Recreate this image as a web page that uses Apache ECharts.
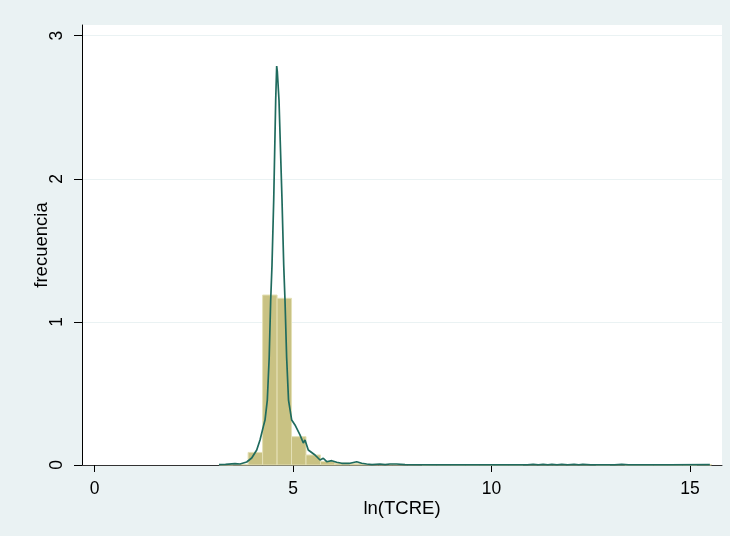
<!DOCTYPE html>
<html>
<head>
<meta charset="utf-8">
<script src="https://cdn.jsdelivr.net/npm/echarts@6/dist/echarts.min.js"></script>
<style>
html,body{margin:0;padding:0;background:#eaf2f3;}
#chart{width:730px;height:536px;}
</style>
</head>
<body>
<div id="chart"></div>
<script>
// Histogram bin edges (ln(TCRE) values)
const binEdges = [3.14, 3.505, 3.869, 4.234, 4.599, 4.963, 5.328, 5.693, 6.058, 6.422, 6.787, 7.152, 7.516, 7.881, 8.246, 8.610, 8.975, 9.340, 9.704, 10.069, 10.434, 10.798, 11.163, 11.528, 11.893, 12.257, 12.622, 12.987, 13.351, 13.716, 14.081, 14.445, 14.810, 15.175, 15.540];
// Histogram density heights per bin
const binHeights = [0.002, 0.004, 0.088, 1.188, 1.165, 0.198, 0.070, 0.025, 0.013, 0.009, 0.004, 0.004, 0.004, 0.003, 0, 0, 0, 0, 0, 0, 0, 0.003, 0.003, 0.003, 0.003, 0.003, 0, 0.003, 0, 0, 0, 0, 0, 0.003];
// Kernel density curve: x values and y values
const kdeX = [3.136, 3.30, 3.54, 3.665, 3.834, 3.96, 4.086, 4.169, 4.252, 4.295, 4.353, 4.40, 4.438, 4.471, 4.514, 4.564, 4.589, 4.605, 4.647, 4.723, 4.766, 4.798, 4.84, 4.887, 4.967, 5.05, 5.176, 5.26, 5.302, 5.385, 5.554, 5.68, 5.763, 5.849, 5.975, 6.101, 6.227, 6.436, 6.605, 6.73, 6.856, 6.99, 7.19, 7.32, 7.44, 7.61, 7.82, 8.5, 9.5, 10.5, 10.9, 11.05, 11.18, 11.30, 11.42, 11.52, 11.65, 11.77, 11.92, 12.08, 12.2, 12.30, 12.5, 13.1, 13.28, 13.45, 14.5, 15.5];
const kdeY = [0.003, 0.004, 0.010, 0.007, 0.021, 0.049, 0.105, 0.175, 0.268, 0.314, 0.454, 0.75, 1.153, 1.398, 1.852, 2.551, 2.788, 2.75, 2.551, 1.852, 1.398, 1.153, 0.75, 0.454, 0.314, 0.280, 0.210, 0.154, 0.175, 0.105, 0.070, 0.035, 0.047, 0.023, 0.030, 0.019, 0.012, 0.012, 0.023, 0.012, 0.007, 0.003, 0.007, 0.003, 0.007, 0.007, 0.002, 0.001, 0.001, 0.001, 0.001, 0.005, 0.001, 0.005, 0.001, 0.005, 0.001, 0.005, 0.001, 0.005, 0.001, 0.005, 0.001, 0.001, 0.004, 0.001, 0.001, 0.002];
// Axis tick labels
const xTicks = [0, 5, 10, 15];
const yTicks = [0, 1, 2, 3];

const histData = binHeights.map((h, i) => [binEdges[i], binEdges[i + 1], h]);
const kdeData = kdeX.map((x, i) => [x, kdeY[i]]);

const chart = echarts.init(document.getElementById('chart'), null, {renderer: 'canvas'});
const font = 'Liberation Sans, Arial, sans-serif';
chart.setOption({
  animation: false,
  backgroundColor: '#eaf2f3',
  grid: {left: 82, right: 8, top: 25, bottom: 71, show: true, backgroundColor: '#ffffff', borderWidth: 0},
  xAxis: {
    type: 'value', min: -0.315, max: 15.806,
    name: 'ln(TCRE)', nameLocation: 'middle', nameGap: 34, nameMoveOverlap: false,
    nameTextStyle: {fontFamily: font, fontSize: 18.5, color: '#000'},
    axisLine: {show: true, onZero: false, lineStyle: {color: '#333', width: 1}},
    axisTick: {show: true, customValues: xTicks, length: 7, lineStyle: {color: '#000'}},
    axisLabel: {customValues: xTicks, fontFamily: font, fontSize: 17.5, color: '#000', margin: 15},
    splitLine: {show: false}
  },
  yAxis: {
    type: 'value', min: 0, max: 3.075, interval: 1,
    name: 'frecuencia', nameLocation: 'middle', nameGap: 31, nameMoveOverlap: false,
    nameTextStyle: {fontFamily: font, fontSize: 18.5, color: '#000'},
    axisLine: {show: true, onZero: false, lineStyle: {color: '#000', width: 1}},
    axisTick: {show: true, customValues: yTicks, length: 8, lineStyle: {color: '#000'}},
    axisLabel: {customValues: yTicks, rotate: 90, fontFamily: font, fontSize: 17.5, color: '#000', margin: 16},
    splitLine: {show: true, lineStyle: {color: '#eaf2f3', width: 1}}
  },
  series: [
    {
      type: 'custom',
      data: histData,
      renderItem: function (params, api) {
        const p0 = api.coord([api.value(0), api.value(2)]);
        const p1 = api.coord([api.value(1), 0]);
        return {
          type: 'rect',
          shape: {x: p0[0], y: p0[1], width: p1[0] - p0[0], height: p1[1] - p0[1]},
          style: {fill: '#c9c283', stroke: '#e4e0b6', lineWidth: 1}
        };
      },
      z: 2
    },
    {
      type: 'line',
      data: kdeData,
      showSymbol: false,
      symbol: 'none',
      smooth: false,
      lineStyle: {color: '#1f6b5e', width: 1.7},
      z: 3
    }
  ]
});
</script>
</body>
</html>
